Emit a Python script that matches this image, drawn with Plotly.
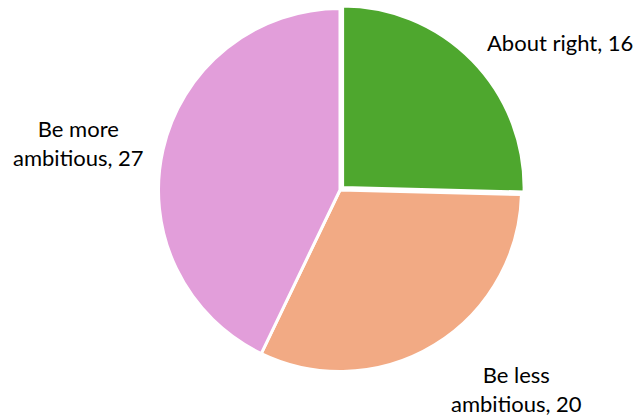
import plotly.graph_objects as go

labels = ["About right", "Be less ambitious", "Be more ambitious"]
values = [16, 20, 27]
colors = ["#4EA72E", "#F2AA84", "#E29EDA"]
pulls = [0.02, 0, 0]
label_text = ["About right, 16", "Be more<br>ambitious, 27", "Be less<br>ambitious, 20"]

W, H = 638, 417
cx, cy, r = 340, 190, 181.5
half = r * (1 + max(pulls))

fig = go.Figure(go.Pie(
    labels=labels, values=values, sort=False, direction="clockwise", rotation=0,
    marker=dict(colors=colors, line=dict(color="white", width=3)),
    pull=pulls, textinfo="none", hoverinfo="label+value",
    domain=dict(x=[(cx - half) / W, (cx + half) / W],
                y=[1 - (cy + half) / H, 1 - (cy - half) / H]),
    showlegend=False,
))

label_pos = [(560, 42), (78, 143), (516, 389)]
for (px, py), t in zip(label_pos, label_text):
    fig.add_annotation(x=px / W, y=1 - py / H, xref="paper", yref="paper", text=t,
                       showarrow=False, xanchor="center", yanchor="middle",
                       font=dict(family="Lato", size=22, color="black"))

fig.update_layout(width=W, height=H, margin=dict(l=0, r=0, t=0, b=0),
                  paper_bgcolor="white", plot_bgcolor="white")
fig.write_html("out.html", config={"displayModeBar": False},
               post_script="document.body.style.margin='0';")
